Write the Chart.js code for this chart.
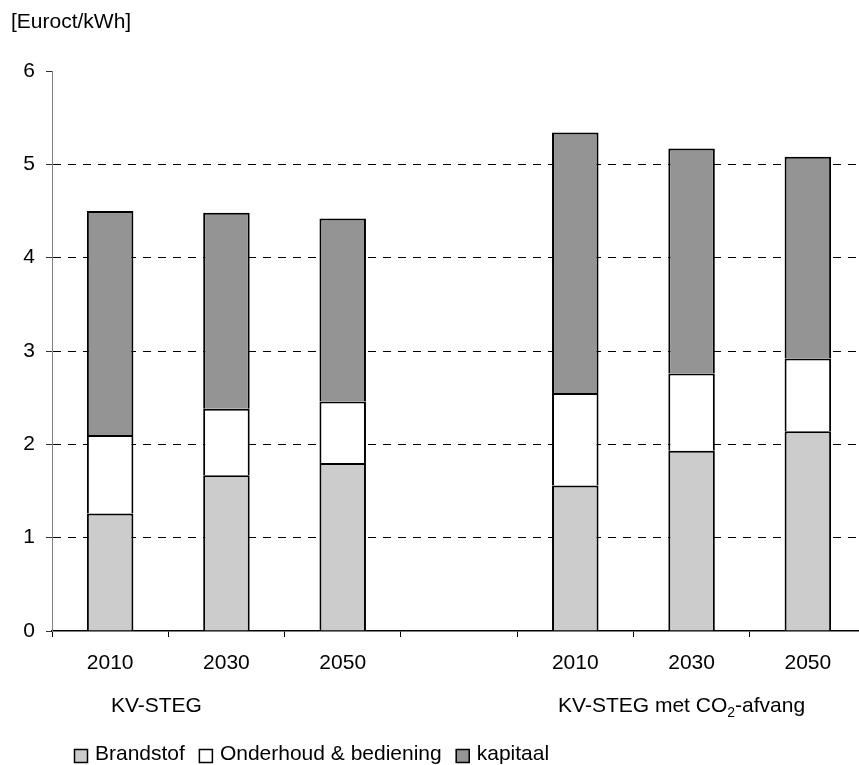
<!DOCTYPE html>
<html>
<head>
<meta charset="utf-8">
<script src="https://cdn.jsdelivr.net/npm/chart.js@4.4.0/dist/chart.umd.min.js"></script>
<style>
    html, body { margin: 0; padding: 0; overflow: hidden; background: #fff; }
    #wrap { position: absolute; left: 0; top: 0; width: 866px; height: 765px; }
</style>
</head>
<body>
<div id="wrap"><canvas id="chart"></canvas></div>
<script>
// Categories: two groups of three years, with an empty slot between them
const years = ['2010', '2030', '2050', '', '2010', '2030', '2050'];
const groupNames = ['KV-STEG', 'KV-STEG met CO2-afvang'];
const unitLabel = '[Euroct/kWh]';

// Cost components in Euroct/kWh
const brandstof = [1.26, 1.67, 1.80, null, 1.56, 1.93, 2.14];
const onderhoud = [0.84, 0.71, 0.66, null, 0.99, 0.83, 0.78];
const kapitaal  = [2.40, 2.10, 1.96, null, 2.79, 2.41, 2.16];

const yTicks = [0, 1, 2, 3, 4, 5, 6];

const FONT_FAMILY = '"Liberation Sans", Arial, sans-serif';
const FONT_SIZE = 21;

// Draws the unit label, the group names under the years and the legend
const extraText = {
    id: 'extraText',
    afterDraw(chart) {
        const { ctx } = chart;
        const x = chart.scales.x;
        ctx.save();
        ctx.fillStyle = '#000';
        ctx.textBaseline = 'alphabetic';
        ctx.font = FONT_SIZE + 'px ' + FONT_FAMILY;

        ctx.fillText(unitLabel, 11, 28);

        // Group 1 name
        const g1 = groupNames[0];
        const c1 = x.getPixelForValue(1) - 70;
        ctx.fillText(g1, c1 - ctx.measureText(g1).width / 2, 712);

        // Group 2 name, with a subscript 2 in CO2
        const pre = 'KV-STEG met CO';
        const sub = '2';
        const post = '-afvang';
        const subFont = '14px ' + FONT_FAMILY;
        const wPre = ctx.measureText(pre).width;
        const wPost = ctx.measureText(post).width;
        ctx.font = subFont;
        const wSub = ctx.measureText(sub).width;
        const total = wPre + wSub + wPost;
        const c2 = x.getPixelForValue(5) - 10;
        let tx = c2 - total / 2;
        ctx.font = FONT_SIZE + 'px ' + FONT_FAMILY;
        ctx.fillText(pre, tx, 712);
        tx += wPre;
        ctx.font = subFont;
        ctx.fillText(sub, tx, 717);
        tx += wSub;
        ctx.font = FONT_SIZE + 'px ' + FONT_FAMILY;
        ctx.fillText(post, tx, 712);

        // Legend
        let lx = 74;
        chart.data.datasets.forEach(ds => {
            ctx.fillStyle = ds.backgroundColor;
            ctx.fillRect(lx, 749, 14, 14);
            ctx.strokeStyle = '#000';
            ctx.lineWidth = 1.5;
            ctx.strokeRect(lx + 0.5, 749.5, 13, 13);
            ctx.fillStyle = '#000';
            ctx.fillText(ds.label, lx + 21, 760);
            lx += 21 + ctx.measureText(ds.label).width + 14;
        });
        ctx.restore();
    }
};

const barStyle = {
    borderColor: '#000',
    borderWidth: 2,
    barPercentage: 0.4,
    categoryPercentage: 1.0
};

new Chart(document.getElementById('chart'), {
    type: 'bar',
    data: {
        labels: years,
        datasets: [
            { label: 'Brandstof', data: brandstof, backgroundColor: '#cccccc', ...barStyle },
            { label: 'Onderhoud & bediening', data: onderhoud, backgroundColor: '#ffffff', ...barStyle },
            { label: 'kapitaal', data: kapitaal, backgroundColor: '#949494', ...barStyle }
        ]
    },
    options: {
        responsive: true,
        maintainAspectRatio: false,
        animation: false,
        layout: {
            padding: { top: 71, right: 0, left: 0, bottom: 0 }
        },
        scales: {
            x: {
                stacked: true,
                afterFit: scale => { scale.height = 134; },
                grid: {
                    offset: true,
                    drawOnChartArea: false,
                    tickLength: 6,
                    tickColor: '#000',
                    tickWidth: 1
                },
                border: { color: '#000', width: 1.5 },
                ticks: {
                    color: '#000',
                    padding: 14,
                    font: { family: FONT_FAMILY, size: FONT_SIZE }
                }
            },
            y: {
                stacked: true,
                min: 0,
                max: 6,
                afterFit: scale => { scale.width = 52; },
                afterBuildTicks: scale => {
                    scale.ticks = yTicks.map(v => ({ value: v }));
                },
                grid: {
                    color: ctx => (ctx.tick && ctx.tick.value > 0 && ctx.tick.value < 6) ? '#000' : 'rgba(0,0,0,0)',
                    lineWidth: 1,
                    tickLength: 6,
                    tickColor: '#333',
                    tickWidth: 1
                },
                border: { color: '#808080', width: 1, dash: [8, 7] },
                ticks: {
                    color: '#000',
                    padding: 11,
                    font: { family: FONT_FAMILY, size: FONT_SIZE }
                }
            }
        },
        plugins: {
            legend: { display: false },
            tooltip: { enabled: false }
        }
    },
    plugins: [extraText]
});
</script>
</body>
</html>
